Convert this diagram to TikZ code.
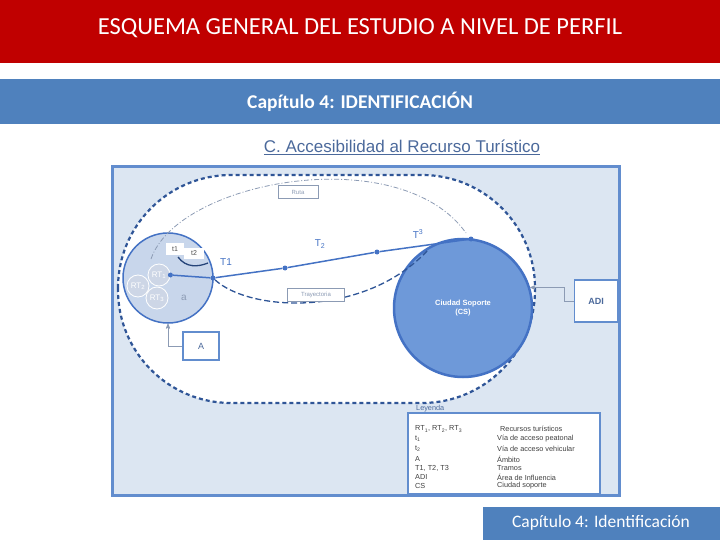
\documentclass[tikz,border=0pt]{standalone}
\usepackage{fontspec}
\setmainfont{Carlito}
\newfontfamily\arialfont{Liberation Sans}
\usetikzlibrary{arrows}

\definecolor{barred}{RGB}{192,0,0}
\definecolor{barblue}{RGB}{79,129,189}
\definecolor{framefill}{RGB}{220,230,242}
\definecolor{frameline}{RGB}{98,141,206}
\definecolor{zonedash}{RGB}{47,85,151}
\definecolor{areafill}{RGB}{200,214,235}
\definecolor{rtfill}{RGB}{205,214,230}
\definecolor{cityfill}{RGB}{110,153,217}
\definecolor{cityline}{RGB}{68,114,196}
\definecolor{labelgray}{RGB}{140,155,180}
\definecolor{textblue}{RGB}{75,105,155}

\begin{document}
\begin{tikzpicture}[x=1pt,y=-1pt,>=stealth',
	tag/.style={draw=labelgray,fill=white,text=labelgray,inner sep=0pt,
		font=\arialfont\fontsize{6}{7}\selectfont},
	rt node/.style={circle,draw=white,line width=0.8pt,fill=rtfill,text=white,
		minimum size=22pt,inner sep=0pt,font=\arialfont\fontsize{8}{9}\selectfont},
	dot/.style={circle,fill=cityline,inner sep=0pt,minimum size=5pt},
	tramo/.style={text=cityline,font=\arialfont\fontsize{10}{12}\selectfont},
	road tag/.style={fill=white,inner sep=0pt,text=black!70,
		font=\arialfont\fontsize{7}{8}\selectfont},
	info box/.style={draw=frameline,line width=1.2pt,fill=white,text=textblue,
		font=\arialfont\fontsize{9}{10}\selectfont},
	key/.style={anchor=west,inner sep=0pt,text=black!75,
		font=\arialfont\fontsize{7.3}{8}\selectfont}]
	
	\useasboundingbox (0,0) rectangle (720,540);
	\fill[barred] (0,0) rectangle (720,63);
	\fill[barblue] (0,79) rectangle (720,124);
	\fill[barblue] (483,507) rectangle (720,540);
	\node[text=white,font=\fontsize{24.5}{28}\selectfont] (title) at (360,28) {ESQUEMA GENERAL DEL ESTUDIO A NIVEL DE PERFIL};
	\node[text=white,font=\bfseries\fontsize{19.5}{22}\selectfont] (chapter) at (360,102) {Capítulo 4: IDENTIFICACIÓN};
	\node[text=textblue,font=\arialfont\fontsize{17}{19}\selectfont] (section) at (402,147) {\underline{C. Accesibilidad al Recurso Turístico}};
	\node[text=white,font=\fontsize{17.5}{20}\selectfont] (footer) at (601,523) {Capítulo 4: Identificación};
	
	\draw[frameline,line width=3pt,fill=framefill] (112,167) rectangle (619,495);
	\draw[zonedash,line width=2.2pt,dash pattern=on 4pt off 3pt,fill=white,rounded corners=113] (118,175) rectangle (535,403);
	
	\node[circle,draw=cityline,line width=1.5pt,fill=areafill,minimum size=90pt] (area) at (168,278) {};
	\node[text=labelgray,font=\arialfont\fontsize{10}{12}\selectfont] (alabel) at (184,298) {a};
	\node[rt node] (rt1) at (159,275) {RT\textsubscript{1}};
	\node[rt node] (rt2) at (138,286) {RT\textsubscript{2}};
	\node[rt node] (rt3) at (157,298) {RT\textsubscript{3}};
	
	\draw[labelgray,line width=0.8pt,dash pattern=on 5pt off 2pt on 1pt off 2pt] (151,259) .. controls (178,180) and (400,140) .. (466,233);
	\node[tag,minimum width=40pt,minimum height=13pt] (ruta) at (298,192) {Ruta};
	\node[road tag,minimum width=18pt,minimum height=12pt] (t1) at (175,249) {t1};
	\node[road tag,minimum width=20pt,minimum height=11pt] (t2) at (194,253) {t2};
	\draw[zonedash!80!black,line width=1.3pt] (178,257) .. controls (186,268) and (198,267) .. (208,263);
	
	\node[circle,draw=cityline,line width=2.5pt,fill=cityfill,minimum size=138pt,text=white,align=center,
		font=\arialfont\bfseries\fontsize{7.5}{9}\selectfont] (cs) at (463,308) {Ciudad Soporte\\(CS)};
	
	\node[dot] (p0) at (rt1.east) {};
	\node[dot] (p1) at (213,278) {};
	\node[dot] (p2) at (285,268) {};
	\node[dot] (p3) at (377,252) {};
	\node[dot] (p4) at (471,239) {};
	\draw[cityline,line width=1.5pt] (p0) -- (p1) -- (p2) -- (p3) -- (p4);
	\draw[zonedash,line width=1.3pt,dash pattern=on 6pt off 3pt] (p1) .. controls (250,312) and (365,318) .. (428,250);
	\node[tag,minimum width=57pt,minimum height=13pt] (tray) at (316,295) {Trayectoria};
	
	\node[tramo] (T1) at (226,262) {T1};
	\node[tramo] (T2) at (320,244) {T\textsubscript{2}};
	\node[tramo] (T3) at (418,234) {T\textsuperscript{3}};
	
	\node[info box,minimum width=43pt,minimum height=42pt,font=\arialfont\bfseries\fontsize{9}{10}\selectfont] (adi) at (596,301) {ADI};
	\node[info box,minimum width=36pt,minimum height=28pt] (abox) at (201,346) {A};
	\draw[->,labelgray,line width=0.8pt] (adi.west) -- ++(-10,0) |- (cs.17);
	\draw[->,labelgray,line width=0.8pt] (abox.west) -| (area.south);
	
	\node[key,text=textblue] (ley) at (416,410) {\underline{Leyenda}};
	\node[draw=frameline,line width=1.8pt,fill=white,minimum width=192pt,minimum height=81pt] (legend) at (504,453.5) {};
	\node[key] (k1) at (415,429) {RT\textsubscript{1}, RT\textsubscript{2}, RT\textsubscript{3}};
	\node[key] (k2) at (415,439) {t\textsubscript{1}};
	\node[key] (k3) at (415,449) {t\textsubscript{2}};
	\node[key] (k4) at (415,459) {A};
	\node[key] (k5) at (415,468) {T1, T2, T3};
	\node[key] (k6) at (415,477) {ADI};
	\node[key] (k7) at (415,486) {CS};
	\node[key] (d1) at (500,429) {Recursos turísticos};
	\node[key] (d2) at (497,439) {Vía de acceso peatonal};
	\node[key] (d3) at (497,449) {Vía de acceso vehicular};
	\node[key] (d4) at (497,459) {Ámbito};
	\node[key] (d5) at (497,468) {Tramos};
	\node[key] (d6) at (497,477) {Área de Influencia};
	\node[key] (d7) at (497,486) {Ciudad soporte};
\end{tikzpicture}
\end{document}
